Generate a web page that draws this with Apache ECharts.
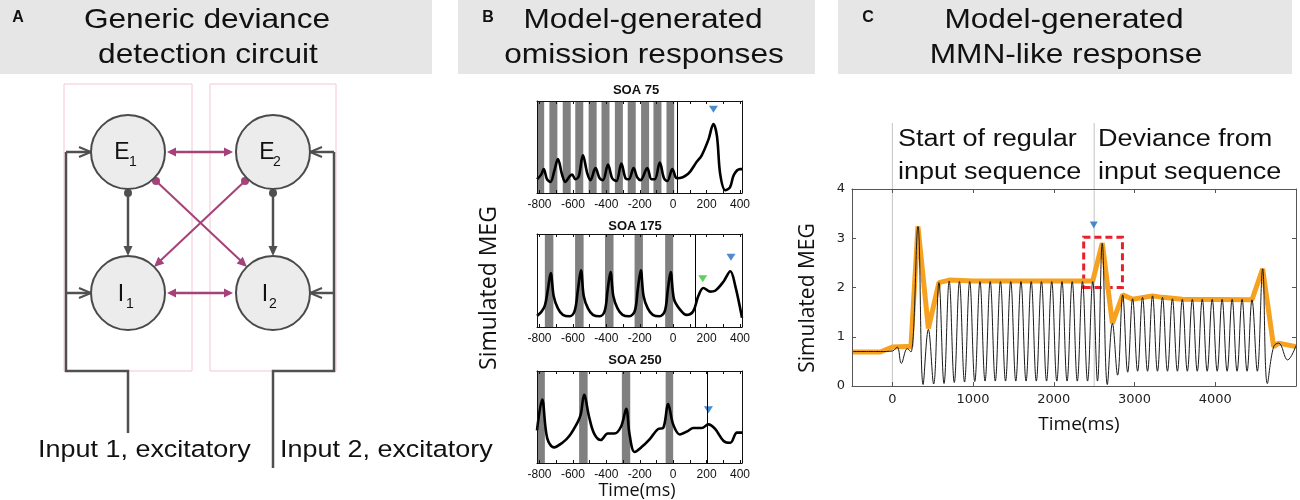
<!DOCTYPE html>
<html><head><meta charset="utf-8">
<script src="https://cdn.jsdelivr.net/npm/echarts@6/dist/echarts.min.js"></script>
<style>html,body{margin:0;padding:0;background:#fff}#c{width:1300px;height:500px}</style>
</head><body><div id="c"></div><script>
// ---------------- DATA ----------------
const soaTitles = ['SOA 75', 'SOA 175', 'SOA 250'];
const bTickLabels = [-800, -600, -400, -200, 0, 200, 400];
const bTicks = [-800, -700, -600, -500, -400, -300, -200, -100, 0, 100, 200, 300, 400];
const cTickLabels = [0, 1000, 2000, 3000, 4000];

// SOA 75 (time ms, simulated MEG, arbitrary units)
const soa75 = [[-815,0.15],[-790,0.20],[-775,0.26],[-755,0.15],[-735,0.12],[-710,0.25],[-690,0.37],[-665,0.20],[-645,0.12],[-620,0.18],[-605,0.20],[-585,0.15],[-565,0.18],[-540,0.41],[-515,0.22],[-495,0.14],[-465,0.27],[-440,0.16],[-420,0.14],[-390,0.31],[-365,0.16],[-340,0.13],[-310,0.32],[-285,0.16],[-265,0.15],[-237,0.27],[-215,0.17],[-195,0.14],[-155,0.27],[-130,0.15],[-110,0.15],[-80,0.33],[-55,0.16],[-35,0.13],[-5,0.26],[15,0.17],[25,0.16],[90,0.21],[141,0.34],[171,0.41],[211,0.58],[241,0.75],[262,0.62],[282,0.20],[312,0.03],[340,0.06],[364,0.20],[400,0.26],[412,0.26]];
const soa75Bands = [[-815,-772],[-741,-693],[-661,-613],[-586,-538],[-506,-458],[-429,-381],[-349,-301],[-272,-224],[-192,-144],[-118,-70],[-40,6]];
const soa75Omission = 23;
const soa75Blue = [[241,0.91]];

// SOA 175
const soa175 = [[-815,0.12],[-790,0.16],[-768,0.23],[-750,0.40],[-733,0.58],[-715,0.33],[-690,0.20],[-660,0.13],[-620,0.115],[-590,0.17],[-570,0.40],[-552,0.61],[-535,0.33],[-510,0.20],[-480,0.13],[-440,0.115],[-410,0.17],[-392,0.40],[-375,0.59],[-358,0.33],[-333,0.20],[-303,0.13],[-263,0.115],[-230,0.17],[-212,0.40],[-194,0.61],[-177,0.33],[-152,0.20],[-122,0.13],[-82,0.115],[-50,0.17],[-32,0.40],[-15,0.59],[5,0.30],[40,0.19],[80,0.13],[120,0.17],[150,0.33],[181,0.42],[221,0.38],[251,0.39],[302,0.49],[342,0.60],[372,0.44],[412,0.10]];
const soa175Bands = [[-768,-717],[-587,-536],[-408,-357],[-231,-181],[-48,0]];
const soa175Omission = 133;
const soa175Blue = [[346,0.75]];
const soa175Green = [[177,0.52]];

// SOA 250
const soa250 = [[-815,0.355],[-784,0.69],[-754,0.27],[-713,0.17],[-663,0.22],[-623,0.29],[-573,0.44],[-553,0.53],[-533,0.74],[-503,0.50],[-473,0.32],[-433,0.25],[-392,0.32],[-352,0.32],[-311,0.40],[-281,0.59],[-261,0.31],[-231,0.12],[-191,0.17],[-140,0.26],[-90,0.37],[-60,0.38],[-30,0.64],[0,0.42],[40,0.31],[90,0.35],[120,0.38],[171,0.38],[211,0.42],[251,0.37],[302,0.24],[342,0.22],[382,0.33],[412,0.33]];
const soa250Bands = [[-815,-768],[-563,-512],[-307,-257],[-45,0]];
const soa250Omission = 205;
const soa250Blue = [[211,0.58]];

// Panel C: MMN-like response
const cMeg = [[-500,0.70],[-150,0.70],[0,0.71],[60,0.79],[111,0.46],[185,0.76],[230,0.69],
[317,3.24],[381,0.03],[446,1.15],[511,0.04],[577,2.10],[640,0.05],[704,2.13],[767,0.07],[831,2.12],[894,0.08],[958,2.12],[1021,0.09],[1085,2.12],[1148,0.10],[1212,2.12],[1275,0.10],[1339,2.12],[1402,0.10],[1466,2.12],[1529,0.10],[1593,2.12],[1656,0.10],[1720,2.12],[1783,0.10],[1847,2.12],[1910,0.10],[1974,2.12],[2037,0.10],[2101,2.12],[2164,0.10],[2228,2.12],[2291,0.10],[2355,2.12],[2418,0.10],[2482,2.12],[2541,0.10],
[2600,2.90],[2663,0.03],[2726,1.27],[2790,0.22],[2853,1.85],[2915,0.28],[2976,1.77],[3038,0.30],[3099,1.80],[3161,0.30],[3223,1.83],[3284,0.30],[3346,1.80],[3408,0.30],[3469,1.77],[3531,0.30],[3592,1.76],[3654,0.30],[3716,1.76],[3777,0.30],[3839,1.76],[3900,0.30],[3962,1.76],[4024,0.30],[4085,1.76],[4147,0.30],[4209,1.76],[4270,0.30],[4332,1.76],[4394,0.30],[4455,1.75],[4521,0.30],[4587,2.38],[4645,0.05],[4723,0.80],[4785,0.87],[4896,0.53],[5000,0.82]];
const cEnvelope = [[-500,0.69],[-150,0.69],[0,0.79],[185,0.80],[230,0.80],[317,3.24],[446,1.17],[577,2.10],[704,2.15],[1000,2.13],[2482,2.13],[2600,2.90],[2726,1.27],[2853,1.85],[2976,1.76],[3223,1.83],[3346,1.80],[3592,1.76],[4455,1.75],[4587,2.38],[4723,0.80],[4785,0.87],[5000,0.80]];
const cDevianceBox = [[2370,2.0],[2850,3.02]];
const cBlue = [[2495,3.27]];
const cEventTimes = [0, 2500];

// ---------------- CHART ----------------
const chart = echarts.init(document.getElementById('c'), null, {width:1300, height:500});
const ARIAL = 'Liberation Sans, Arial, sans-serif';
const OPEN = 'Open Sans, DejaVu Sans, sans-serif';
const DV = 'DejaVu Sans, sans-serif';
const BLUE = '#1f6fbf', GREEN = '#37c437';

const bGrids = [
  {left:537, top:101, width:205, height:92},
  {left:537, top:234, width:205, height:93},
  {left:537, top:371, width:205, height:92}
];
const cGrid = {left:852, top:189, width:444, height:197};
const grids = bGrids.concat([cGrid]).map(g => Object.assign({containLabel:false, outerBoundsMode:'none'}, g));

const xAxes = [], yAxes = [], series = [];
const bSets = [
  {data:soa75, bands:soa75Bands, om:soa75Omission, blue:soa75Blue, green:[]},
  {data:soa175, bands:soa175Bands, om:soa175Omission, blue:soa175Blue, green:soa175Green},
  {data:soa250, bands:soa250Bands, om:soa250Omission, blue:soa250Blue, green:[]}
];
const axLine = {show:true, onZero:false, lineStyle:{color:'#111', width:1}};
bSets.forEach((s, i) => {
  xAxes.push({gridIndex:i, type:'value', min:-815, max:412, position:'bottom', z:5,
    axisLine:axLine, splitLine:{show:false},
    axisTick:{show:true, inside:true, length:3, customValues:bTicks, lineStyle:{color:'#111'}},
    axisLabel:{customValues:bTickLabels, fontSize:12, fontFamily:ARIAL, color:'#111', margin:6, formatter:v => String(v)}});
  xAxes.push({gridIndex:i, type:'value', min:-815, max:412, position:'top', z:5,
    axisLine:axLine, splitLine:{show:false},
    axisTick:{show:true, inside:true, length:3, customValues:bTicks, lineStyle:{color:'#111'}},
    axisLabel:{show:false}});
  yAxes.push({gridIndex:i, type:'value', min:0, max:1, position:'left', z:5,
    axisLine:axLine, axisTick:{show:false}, axisLabel:{show:false}, splitLine:{show:false}});
  yAxes.push({gridIndex:i, type:'value', min:0, max:1, position:'right', z:5,
    axisLine:axLine, axisTick:{show:false}, axisLabel:{show:false}, splitLine:{show:false}});
  series.push({type:'line', xAxisIndex:2*i, yAxisIndex:2*i, data:[], z:1, silent:true,
    markArea:{silent:true, itemStyle:{color:'#808080'},
      data:s.bands.map(b => [{xAxis:b[0]}, {xAxis:b[1]}])}});
  series.push({type:'line', xAxisIndex:2*i, yAxisIndex:2*i, data:s.data, z:3, showSymbol:false,
    smooth:0.35, lineStyle:{color:'#000', width:2.6},
    markLine:{silent:true, symbol:['none','none'], label:{show:false},
      lineStyle:{color:'#000', width:1, type:'solid'}, data:[{xAxis:s.om}]}});
  series.push({type:'scatter', xAxisIndex:2*i, yAxisIndex:2*i, data:s.blue, z:4,
    symbol:'triangle', symbolRotate:180, symbolSize:[9,7], itemStyle:{color:BLUE}});
  if (s.green.length) series.push({type:'scatter', xAxisIndex:2*i, yAxisIndex:2*i, data:s.green, z:4,
    symbol:'triangle', symbolRotate:180, symbolSize:[9,7], itemStyle:{color:GREEN}});
});
// Panel C axes
const cLine = {show:true, onZero:false, lineStyle:{color:'#555', width:1}};
xAxes.push({gridIndex:3, type:'value', min:-500, max:5000, position:'bottom', z:5, axisLine:cLine,
  splitLine:{show:false}, axisTick:{show:true, inside:true, length:4, customValues:cTickLabels, lineStyle:{color:'#555'}},
  axisLabel:{customValues:cTickLabels, fontSize:13, fontFamily:DV, color:'#222', margin:7, formatter:v => String(v)}});
xAxes.push({gridIndex:3, type:'value', min:-500, max:5000, position:'top', z:5, axisLine:cLine,
  splitLine:{show:false}, axisTick:{show:true, inside:true, length:4, customValues:cTickLabels, lineStyle:{color:'#555'}},
  axisLabel:{show:false}});
yAxes.push({gridIndex:3, type:'value', min:0, max:4, interval:1, position:'left', z:5, axisLine:cLine,
  splitLine:{show:false}, axisTick:{show:true, inside:true, length:4, lineStyle:{color:'#555'}},
  axisLabel:{fontSize:13, fontFamily:DV, color:'#222', margin:7}});
yAxes.push({gridIndex:3, type:'value', min:0, max:4, interval:1, position:'right', z:5, axisLine:cLine,
  splitLine:{show:false}, axisTick:{show:true, inside:true, length:4, lineStyle:{color:'#555'}},
  axisLabel:{show:false}});
series.push({type:'line', xAxisIndex:6, yAxisIndex:6, data:cEnvelope, z:2, showSymbol:false,
  lineStyle:{color:'#f6a11f', width:5},
  markArea:{silent:true, itemStyle:{color:'rgba(0,0,0,0)', borderColor:'#e8202b', borderWidth:3, borderType:[7,4]},
    data:[[{coord:cDevianceBox[0]}, {coord:cDevianceBox[1]}]]}});
series.push({type:'line', xAxisIndex:6, yAxisIndex:6, data:cMeg, z:3, showSymbol:false,
  smooth:0.4, lineStyle:{color:'#1a1a1a', width:1}});
series.push({type:'scatter', xAxisIndex:6, yAxisIndex:6, data:cBlue, z:4,
  symbol:'triangle', symbolRotate:180, symbolSize:[8,7], itemStyle:{color:BLUE}});

chart.setOption({animation:false, grid:grids, xAxis:xAxes, yAxis:yAxes, series:series});

// ---------------- GRAPHICS (headers, circuit, annotations) ----------------
const G = [];
function txt(text, x, y, size, opt) {
  opt = opt || {};
  G.push({type:'text', x:x, y:y, rotation:opt.rot || 0, scaleX:opt.sx || 1, z:opt.z || 10,
    style:{text:text, fontSize:size, fontFamily:opt.ff || ARIAL, fontWeight:opt.fw || 'normal',
      fill:opt.fill || '#111', align:opt.align || 'center', verticalAlign:'middle'}});
}
// header boxes
[[0,432],[458,815],[838,1292]].forEach(b => G.push({type:'rect', z:1, shape:{x:b[0], y:0, width:b[1]-b[0], height:74}, style:{fill:'#e6e6e6'}}));
txt('A', 18, 18, 16, {fw:'bold'});
txt('B', 488, 18, 16, {fw:'bold'});
txt('C', 868, 18, 16, {fw:'bold'});
txt('Generic deviance', 207, 20, 28, {sx:1.13});
txt('detection circuit', 208, 55, 28, {sx:1.13});
txt('Model-generated', 643, 20, 28, {sx:1.13});
txt('omission responses', 644, 55, 28, {sx:1.13});
txt('Model-generated', 1064, 20, 28, {sx:1.13});
txt('MMN-like response', 1066, 55, 28, {sx:1.13});

// Panel A circuit
const MAG = '#a5427a', DG = '#505050';
function head(tx, ty, ux, uy, len, hw, color) {
  const bx = tx - ux*len, by = ty - uy*len;
  G.push({type:'polygon', z:6, shape:{points:[[tx,ty],[bx-uy*hw, by+ux*hw],[bx+uy*hw, by-ux*hw]]}, style:{fill:color}});
}
function chevron(tx, ty, ux, uy, len, hw, color) {
  const bx = tx - ux*len, by = ty - uy*len;
  G.push({type:'polyline', z:6, shape:{points:[[bx-uy*hw, by+ux*hw],[tx,ty],[bx+uy*hw, by-ux*hw]]}, style:{stroke:color, lineWidth:2, fill:null}});
}
function line(x1, y1, x2, y2, color, w) {
  G.push({type:'line', z:5, shape:{x1:x1, y1:y1, x2:x2, y2:y2}, style:{stroke:color, lineWidth:w}});
}
function dot(cx, cy, color) {
  G.push({type:'circle', z:6, shape:{cx:cx, cy:cy, r:4}, style:{fill:color}});
}
// pink frames
G.push({type:'rect', z:2, shape:{x:64, y:84, width:128, height:287}, style:{fill:null, stroke:'#f5c8d2', lineWidth:1}});
G.push({type:'rect', z:2, shape:{x:210, y:84, width:126, height:287}, style:{fill:null, stroke:'#f5c8d2', lineWidth:1}});
// input wiring
G.push({type:'polyline', z:5, shape:{points:[[66,152],[66,371],[128,371],[128,433]]}, style:{stroke:DG, lineWidth:2.5, fill:null}});
G.push({type:'polyline', z:5, shape:{points:[[334,152],[334,371],[273,371],[273,468]]}, style:{stroke:DG, lineWidth:2.5, fill:null}});
line(66,152,90,152,DG,2.5); chevron(91,152,1,0,12,5,DG);
line(66,293,90,293,DG,2.5); chevron(91,293,1,0,12,5,DG);
line(334,152,311,152,DG,2.5); chevron(310,152,-1,0,12,5,DG);
line(334,293,311,293,DG,2.5); chevron(310,293,-1,0,12,5,DG);
// nodes
[[128,152],[273,152],[128,293],[273,293]].forEach(c => G.push({type:'circle', z:7, shape:{cx:c[0], cy:c[1], r:37}, style:{fill:'#ececec', stroke:'#4a4a4a', lineWidth:2}}));
txt('E', 122, 153, 23, {z:8}); txt('1', 133, 162, 14, {z:8});
txt('E', 267, 153, 23, {z:8}); txt('2', 277, 162, 14, {z:8});
txt('I', 121, 295, 23, {z:8}); txt('1', 130, 304, 14, {z:8});
txt('I', 265, 295, 23, {z:8}); txt('2', 273, 304, 14, {z:8});
// E->I arrows (gray)
line(128,193,128,250,DG,2.5); dot(128,193,DG); head(128,256,0,1,10,4.5,DG);
line(273,193,273,250,DG,2.5); dot(273,193,DG); head(273,256,0,1,10,4.5,DG);
// lateral double arrows (magenta)
line(170,152,230,152,MAG,2.5); head(167,152,-1,0,9,4.5,MAG); head(233,152,1,0,9,4.5,MAG);
line(170,293,230,293,MAG,2.5); head(167,293,-1,0,9,4.5,MAG); head(233,293,1,0,9,4.5,MAG);
// cross connections
line(156,181,241,261,MAG,2); dot(156,181,MAG); head(247,267,0.727,0.687,10,4.5,MAG);
line(245,181,160,261,MAG,2); dot(245,181,MAG); head(154,267,-0.727,0.687,10,4.5,MAG);
txt('Input 1, excitatory', 38, 450, 24.5, {align:'left', sx:1.1});
txt('Input 2, excitatory', 280, 450, 24.5, {align:'left', sx:1.1});

// Panel B labels
txt(soaTitles[0], 636, 90, 13, {fw:'bold'});
txt(soaTitles[1], 635, 226, 13, {fw:'bold'});
txt(soaTitles[2], 635, 360, 13, {fw:'bold'});
txt('Simulated MEG', 489, 288, 23, {ff:OPEN, rot:Math.PI/2});
txt('Time(ms)', 637, 491, 18, {ff:OPEN});

// Panel C labels & event lines
txt('Simulated MEG', 808, 298, 21, {ff:OPEN, rot:Math.PI/2});
txt('Time(ms)', 1079, 425, 19, {ff:OPEN});
cEventTimes.forEach(t => {
  const px = chart.convertToPixel({xAxisIndex:6}, t);
  G.push({type:'line', z:0, shape:{x1:px, y1:123, x2:px, y2:386}, style:{stroke:'#c4c4c4', lineWidth:1}});
});
txt('Start of regular', 898, 140, 23.5, {align:'left', sx:1.15});
txt('input sequence', 898, 173, 23.5, {align:'left', sx:1.15});
txt('Deviance from', 1098, 140, 23.5, {align:'left', sx:1.15});
txt('input sequence', 1098, 173, 23.5, {align:'left', sx:1.15});

chart.setOption({graphic:{elements:G}});
</script></body></html>
